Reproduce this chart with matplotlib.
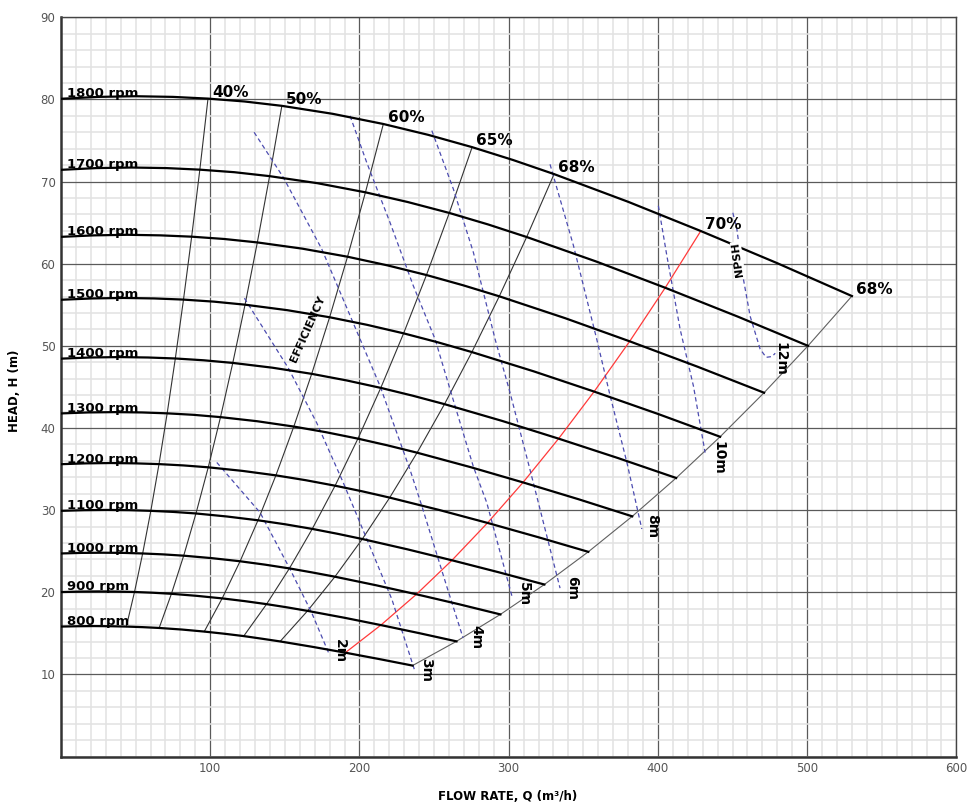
import matplotlib
matplotlib.use("Agg")
import matplotlib.pyplot as plt
from matplotlib.ticker import MultipleLocator
from matplotlib import font_manager

# --- pump performance data ---
# flow Q (m3/h) and head H (m) along each speed curve
q_1800 = [0, 25, 50, 75, 98.5, 123, 148, 182, 216, 246, 275.5, 303, 330.4, 380, 428.7, 480, 530]
h_1800 = [80.08, 80.31, 80.39, 80.31, 80.10, 79.75, 79.22, 78.25, 77.01, 75.69, 74.19, 72.62, 70.91,
          67.54, 63.98, 60.06, 56.06]
q_1700 = [0, 23.61, 47.22, 70.83, 93.03, 116.17, 139.78, 171.89, 204.0, 232.33, 260.19, 286.17, 312.04,
          358.89, 404.88, 453.33, 500.56]
h_1700 = [71.43, 71.64, 71.71, 71.64, 71.45, 71.14, 70.66, 69.80, 68.69, 67.51, 66.18, 64.78, 63.25,
          60.25, 57.07, 53.57, 50.00]
q_1600 = [0, 22.22, 44.44, 66.67, 87.56, 109.33, 131.56, 161.78, 192.0, 218.67, 244.89, 269.33, 293.69,
          337.78, 381.07, 426.67, 471.11]
h_1600 = [63.27, 63.45, 63.52, 63.45, 63.29, 63.01, 62.59, 61.83, 60.85, 59.80, 58.62, 57.38, 56.03,
          53.37, 50.55, 47.45, 44.29]
q_1500 = [0, 20.83, 41.67, 62.5, 82.08, 102.5, 123.33, 151.67, 180.0, 205.0, 229.58, 252.5, 275.33,
          316.67, 357.25, 400.0, 441.67]
h_1500 = [55.61, 55.77, 55.83, 55.77, 55.63, 55.38, 55.01, 54.34, 53.48, 52.56, 51.52, 50.43, 49.24,
          46.90, 44.43, 41.71, 38.93]
q_1400 = [0, 19.44, 38.89, 58.33, 76.61, 95.67, 115.11, 141.56, 168.0, 191.33, 214.28, 235.67, 256.98,
          295.56, 333.43, 373.33, 412.22]
h_1400 = [48.44, 48.58, 48.63, 48.58, 48.46, 48.24, 47.92, 47.34, 46.59, 45.79, 44.88, 43.93, 42.90,
          40.86, 38.70, 36.33, 33.91]
q_1300 = [0, 18.06, 36.11, 54.17, 71.14, 88.83, 106.89, 131.44, 156.0, 177.67, 198.97, 218.83, 238.62,
          274.44, 309.62, 346.67, 382.78]
h_1300 = [41.77, 41.89, 41.93, 41.89, 41.78, 41.60, 41.32, 40.82, 40.17, 39.48, 38.70, 37.88, 36.99,
          35.23, 33.37, 31.33, 29.24]
q_1200 = [0, 16.67, 33.33, 50.0, 65.67, 82.0, 98.67, 121.33, 144.0, 164.0, 183.67, 202.0, 220.27,
          253.33, 285.8, 320.0, 353.33]
h_1200 = [35.59, 35.69, 35.73, 35.69, 35.60, 35.44, 35.21, 34.78, 34.23, 33.64, 32.97, 32.28, 31.52,
          30.02, 28.44, 26.69, 24.92]
q_1100 = [0, 15.28, 30.56, 45.83, 60.19, 75.17, 90.44, 111.22, 132.0, 150.33, 168.36, 185.17, 201.91,
          232.22, 261.98, 293.33, 323.89]
h_1100 = [29.91, 29.99, 30.02, 29.99, 29.91, 29.78, 29.59, 29.22, 28.76, 28.27, 27.71, 27.12, 26.48,
          25.22, 23.89, 22.43, 20.94]
q_1000 = [0, 13.89, 27.78, 41.67, 54.72, 68.33, 82.22, 101.11, 120.0, 136.67, 153.06, 168.33, 183.56,
          211.11, 238.17, 266.67, 294.44]
h_1000 = [24.72, 24.79, 24.81, 24.79, 24.72, 24.61, 24.45, 24.15, 23.77, 23.36, 22.90, 22.41, 21.89,
          20.85, 19.75, 18.54, 17.30]
q_900 = [0, 12.5, 25, 37.5, 49.25, 61.5, 74, 91, 108, 123, 137.75, 151.5, 165.2, 190, 214.35, 240, 265]
h_900 = [20.02, 20.08, 20.10, 20.08, 20.03, 19.94, 19.81, 19.56, 19.25, 18.92, 18.55, 18.16, 17.73,
         16.89, 16.0, 15.02, 14.02]
q_800 = [0, 11.11, 22.22, 33.33, 43.78, 54.67, 65.78, 80.89, 96.0, 109.33, 122.44, 134.67, 146.84,
         168.89, 190.53, 213.33, 235.56]
h_800 = [15.82, 15.86, 15.88, 15.86, 15.82, 15.75, 15.65, 15.46, 15.21, 14.95, 14.66, 14.34, 14.01,
         13.34, 12.64, 11.86, 11.07]

SPEED_LABELS = ["1800 rpm", "1700 rpm", "1600 rpm", "1500 rpm", "1400 rpm", "1300 rpm",
                "1200 rpm", "1100 rpm", "1000 rpm", "900 rpm", "800 rpm"]
speed_q = [q_1800, q_1700, q_1600, q_1500, q_1400, q_1300, q_1200, q_1100, q_1000, q_900, q_800]
speed_h = [h_1800, h_1700, h_1600, h_1500, h_1400, h_1300, h_1200, h_1100, h_1000, h_900, h_800]

# iso-efficiency lines join the same point (column) of every speed curve
EFF_LABELS = ["40%", "50%", "60%", "65%", "68%", "70%", "68%"]
EFF_COLUMN = [4, 6, 8, 10, 12, 14, 16]

# NPSHr lines (dashed)
npsh_2m_q = [104.4, 133.4, 153.5, 168.0, 179.6]
npsh_2m_h = [35.8, 29.7, 22.8, 17.5, 12.5]
npsh_3m_q = [122.9, 152.3, 171.4, 189.0, 205.1, 221.8, 237.3]
npsh_3m_h = [55.8, 47.3, 40.6, 33.4, 26.4, 19.1, 10.3]
npsh_4m_q = [129.4, 149.0, 174.7, 213.8, 233.9, 241.8, 258.5, 269.4]
npsh_4m_h = [76.0, 70.5, 61.8, 45.1, 34.9, 30.5, 20.7, 14.45]
npsh_5m_q = [193.7, 204.9, 220.5, 236.1, 250.7, 260.7, 276.3, 285.3, 302.5]
npsh_5m_h = [78.0, 72.3, 65.0, 57.3, 50.8, 44.7, 35.3, 30.9, 19.3]
npsh_6m_q = [248.5, 262.9, 276.3, 290.9, 300.9, 314.3, 321.0, 334.4]
npsh_6m_h = [76.2, 69.1, 61.4, 50.8, 44.3, 34.9, 30.1, 20.5]
npsh_8m_q = [327.7, 343.4, 359.0, 368.0, 379.2, 389.2]
npsh_8m_h = [72.1, 62.2, 50.8, 43.9, 35.8, 27.7]
npsh_10m_q = [400.3, 406.0, 414.9, 423.8, 431.6]
npsh_10m_h = [67.05, 60.95, 52.0, 45.1, 37.0]
npsh_12m_q = [450.2, 452.9, 457.3, 461.8, 468.5, 472.5, 476.5, 478.6]
npsh_12m_h = [66.2, 64.2, 58.1, 53.6, 49.6, 48.6, 48.7, 49.1]

NPSH_LABELS = ["2m", "3m", "4m", "5m", "6m", "8m", "10m", "12m"]
npsh_q = [npsh_2m_q, npsh_3m_q, npsh_4m_q, npsh_5m_q, npsh_6m_q, npsh_8m_q, npsh_10m_q, npsh_12m_q]
npsh_h = [npsh_2m_h, npsh_3m_h, npsh_4m_h, npsh_5m_h, npsh_6m_h, npsh_8m_h, npsh_10m_h, npsh_12m_h]
# centre of each label, Q / H
npsh_label_q = [187.0, 244.6, 278.2, 310.3, 342.3, 396.4, 440.6, 482.1]
npsh_label_h = [12.8, 10.55, 14.6, 19.8, 20.5, 28.1, 36.3, 48.35]

# --- figure ---
names = {f.name for f in font_manager.fontManager.ttflist}
narrow = "Liberation Sans Narrow" if "Liberation Sans Narrow" in names else "DejaVu Sans"

fig = plt.figure(figsize=(9.76, 8.08), dpi=100)
ax = fig.add_axes([61 / 976, 51.5 / 808, 895.4 / 976, 739.2 / 808])
ax.set_xlim(0, 600)
ax.set_ylim(0, 90)

ax.xaxis.set_minor_locator(MultipleLocator(10))
ax.yaxis.set_minor_locator(MultipleLocator(2))
ax.set_xticks([100, 200, 300, 400, 500, 600])
ax.set_yticks([10, 20, 30, 40, 50, 60, 70, 80, 90])
ax.grid(which="minor", color="#e2e2e2", linewidth=1.1)
ax.grid(which="major", color="#5a5a5a", linewidth=0.9)
ax.set_axisbelow(True)
ax.tick_params(which="both", length=0)
ax.tick_params(axis="both", labelsize=8.5, labelcolor="#555555", pad=4)
for lab in ax.get_xticklabels() + ax.get_yticklabels():
    lab.set_fontfamily(narrow)

for side in ["left", "bottom"]:
    ax.spines[side].set_color("#333333")
    ax.spines[side].set_linewidth(1.8)
for side in ["top", "right"]:
    ax.spines[side].set_color("#444444")
    ax.spines[side].set_linewidth(1.0)

# speed curves
for label, qs, hs in zip(SPEED_LABELS, speed_q, speed_h):
    ax.plot(qs, hs, color="black", linewidth=1.6, zorder=4)
    ax.annotate(label, (qs[0], hs[0]), xytext=(4, 1.2), textcoords="offset points",
                fontsize=9.5, fontweight="bold", va="baseline", ha="left", zorder=6)

# iso-efficiency lines
for i, (label, col) in enumerate(zip(EFF_LABELS, EFF_COLUMN)):
    qs = [c[col] for c in speed_q]
    hs = [c[col] for c in speed_h]
    if label == "70%":
        color, lw = "#ff3a3a", 0.9
    elif i == len(EFF_LABELS) - 1:
        color, lw = "#606060", 0.8
    else:
        color, lw = "#333333", 0.8
    ax.plot(qs, hs, color=color, linewidth=lw, zorder=3)
    ax.annotate(label, (qs[0], hs[0]), xytext=(3, 1.5), textcoords="offset points",
                fontsize=11, fontweight="bold", va="baseline", ha="left", zorder=6)

# NPSH lines
for label, qs, hs, lq, lh in zip(NPSH_LABELS, npsh_q, npsh_h, npsh_label_q, npsh_label_h):
    ax.plot(qs, hs, color="#4c4cb0", linewidth=0.9, dashes=(3.5, 2.5), zorder=3)
    ax.text(lq, lh, label, rotation=-90, fontsize=10, fontweight="bold",
            ha="center", va="center", zorder=6)

ax.text(165.5, 52.1, "EFFICIENCY", rotation=66, fontsize=8, fontweight="bold",
        ha="center", va="center", zorder=6)
ax.text(453.4, 60.5, "NPSH", rotation=98, fontsize=8, fontweight="bold",
        ha="center", va="center", zorder=6,
        bbox=dict(facecolor="white", edgecolor="none", pad=0.3))

fig.text(15 / 976, 1 - 391 / 808, "HEAD, H (m)", rotation=90, fontsize=8.5,
         fontweight="bold", family=narrow, ha="center", va="center")
fig.text(508 / 976, 1 - 797 / 808, "FLOW RATE, Q (m\u00b3/h)", fontsize=8.5,
         fontweight="bold", family=narrow, ha="center", va="center")

fig.savefig("out.png", dpi=100)
